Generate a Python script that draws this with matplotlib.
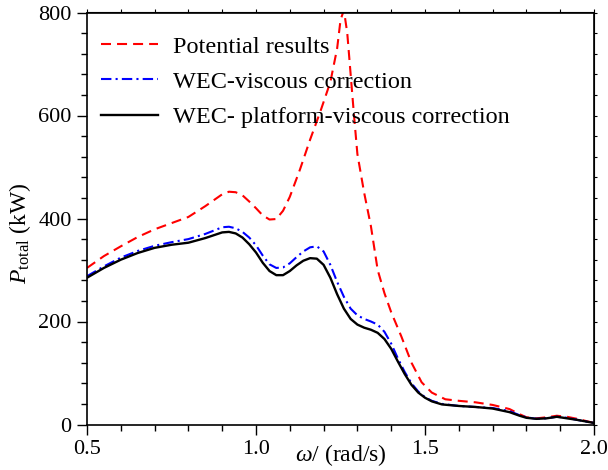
import matplotlib
matplotlib.use("Agg")
import matplotlib.pyplot as plt
from matplotlib.ticker import MultipleLocator

plt.rcParams["font.family"] = "Liberation Serif"
plt.rcParams["mathtext.fontset"] = "custom"
plt.rcParams["mathtext.rm"] = "Liberation Serif"
plt.rcParams["mathtext.it"] = "Liberation Serif:italic"

# frequency (rad/s) and total power (kW)
omega_pot = [0.50, 0.55, 0.60, 0.65, 0.70, 0.75, 0.80, 0.85, 0.90, 0.92, 0.94,
             0.96, 0.98, 1.00, 1.02, 1.04, 1.06, 1.08, 1.10, 1.13, 1.16, 1.19,
             1.22, 1.24, 1.25, 1.26, 1.27, 1.28, 1.29, 1.30, 1.32, 1.34, 1.36,
             1.38, 1.40, 1.43, 1.46, 1.49, 1.52, 1.56, 1.60, 1.65, 1.70, 1.75,
             1.78, 1.80, 1.83, 1.86, 1.89, 1.92, 1.95, 2.00]
p_pot = [304, 327, 346, 364, 379, 391, 403, 424, 447, 452, 451,
         445, 433, 420, 406, 398, 399, 415, 442, 495, 553, 607,
         665, 730, 785, 805, 760, 680, 600, 525, 450, 385, 300,
         255, 218, 171, 120, 82, 62, 49, 46, 43, 38, 30,
         20, 14, 12, 14, 17, 15, 11, 3]

omega = [0.50, 0.55, 0.60, 0.65, 0.70, 0.75, 0.80, 0.85, 0.90, 0.92, 0.94,
         0.96, 0.98, 1.00, 1.02, 1.04, 1.06, 1.08, 1.10, 1.12, 1.14, 1.16,
         1.18, 1.20, 1.22, 1.24, 1.26, 1.28, 1.30, 1.32, 1.34, 1.36, 1.38,
         1.40, 1.42, 1.44, 1.46, 1.48, 1.50, 1.52, 1.55, 1.60, 1.65, 1.70,
         1.75, 1.78, 1.80, 1.83, 1.86, 1.89, 1.92, 1.95, 2.00]
p_wec = [288, 307, 324, 337, 347, 354, 360, 370, 383, 384, 381,
         374, 363, 348, 328, 311, 304, 305, 313, 325, 336, 344,
         346, 336, 310, 277, 248, 225, 212, 205, 200, 194, 180,
         157, 128, 102, 80, 64, 53, 46, 40, 36, 34, 32,
         26, 18, 14, 11, 12, 15, 13, 9, 3]
p_plat = [285, 304, 320, 333, 343, 349, 353, 362, 373, 374, 371,
          363, 350, 334, 314, 298, 290, 290, 298, 309, 318, 323,
          322, 310, 285, 253, 225, 205, 194, 188, 184, 178, 166,
          147, 122, 98, 77, 62, 52, 45, 39, 36, 34, 31,
          24, 17, 13, 11, 12, 15, 12, 9, 3]

fig = plt.figure(figsize=(6.08, 4.70), dpi=100)
ax = fig.add_axes([87 / 608, 45.5 / 470, 507 / 608, 412 / 470])

ax.plot(omega_pot, p_pot, color="red", lw=1.5, ls=(0, (4.8, 2.9)),
        label="Potential results")
ax.plot(omega, p_wec, color="blue", lw=1.5, ls=(0, (5, 2, 1, 2)),
        label="WEC-viscous correction")
ax.plot(omega, p_plat, color="black", lw=1.7, ls="-",
        label="WEC- platform-viscous correction")

ax.set_xlim(0.5, 2.0)
ax.set_ylim(0, 800)
ax.xaxis.set_major_locator(MultipleLocator(0.5))
ax.xaxis.set_minor_locator(MultipleLocator(0.1))
ax.yaxis.set_major_locator(MultipleLocator(200))
ax.yaxis.set_minor_locator(MultipleLocator(40))
ax.xaxis.set_major_formatter(plt.FormatStrFormatter("%.1f"))
ax.tick_params(which="both", direction="out", labelsize=16, width=1)
ax.tick_params(which="major", length=7, pad=4)
ax.tick_params(which="minor", length=4)
for s in ax.spines.values():
    s.set_linewidth(1.2)

# short ticks on the top and right frame
top = ax.secondary_xaxis("top")
top.xaxis.set_major_locator(MultipleLocator(0.1))
top.tick_params(direction="out", length=2, labeltop=False)
right = ax.secondary_yaxis("right")
right.yaxis.set_major_locator(MultipleLocator(40))
right.tick_params(direction="out", length=2, labelright=False)

ax.set_xlabel(r"$\omega$/ (rad/s)", fontsize=17, labelpad=-12)
ax.set_ylabel(r"$P_{\rm total}$ (kW)", fontsize=17)
ax.yaxis.set_label_coords(-0.107, 0.465)

ax.legend(loc="upper left", bbox_to_anchor=(0.0276, 0.944), frameon=False,
          fontsize=17.5, borderpad=0, borderaxespad=0, handlelength=2.35,
          handletextpad=0.62, labelspacing=0.55)

fig.savefig("out.png", dpi=100)
